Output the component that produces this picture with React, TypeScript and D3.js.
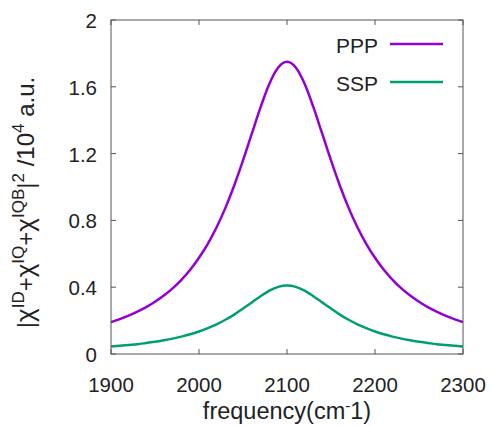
import React from "react";
import * as d3 from "d3";

const freq = [1900,1910,1920,1930,1940,1950,1960,1970,1980,1990,2000,2010,2020,2030,2040,2050,2060,2070,2080,2090,2100,2110,2120,2130,2140,2150,2160,2170,2180,2190,2200,2210,2220,2230,2240,2250,2260,2270,2280,2290,2300];
const pppHalf = [0.191,0.209,0.230,0.254,0.281,0.313,0.350,0.393,0.444,0.504,0.576,0.660,0.759,0.875,1.009,1.159,1.319,1.478,1.618,1.715,1.750];
const sspHalf = [0.045,0.049,0.054,0.059,0.066,0.073,0.082,0.092,0.104,0.118,0.135,0.155,0.178,0.205,0.236,0.272,0.309,0.346,0.379,0.402,0.410];
const ppp = [...pppHalf, ...pppHalf.slice(0, -1).reverse()];
const ssp = [...sspHalf, ...sspHalf.slice(0, -1).reverse()];
const xTicks = [1900, 2000, 2100, 2200, 2300];
const yTicks = [0, 0.4, 0.8, 1.2, 1.6, 2];
const seriesNames = ["PPP", "SSP"];
const seriesColors = ["#9400d3", "#009e73"];

export default function App() {
  const W = 492, H = 426;
  const L = 111, R = 463, T = 20, B = 354;
  const x = d3.scaleLinear().domain([1900, 2300]).range([L, R]);
  const y = d3.scaleLinear().domain([0, 2]).range([B, T]);
  const line = d3.line<number>().x((_, i) => x(freq[i])).y((d) => y(d)).curve(d3.curveMonotoneX);
  const series = [ppp, ssp];
  const font = "'Liberation Sans', Arial, sans-serif";
  const tk = 5;
  const fs = 20.5;
  const sup = 17;
  const up = 10;
  const chi = 26;
  return (
    <svg width={W} height={H} style={{ position: "absolute", left: 0, top: 0 }} fontFamily={font}>
      <rect x={0} y={0} width={W} height={H} fill="#fff" />
      {series.map((s, i) => (
        <path key={i} d={line(s) || ""} fill="none" stroke={seriesColors[i]} strokeWidth={2.5} />
      ))}
      <rect x={L} y={T} width={R - L} height={B - T} fill="none" stroke="#555" strokeWidth={1} />
      {xTicks.map((t) => (
        <g key={t}>
          <line x1={x(t)} x2={x(t)} y1={B} y2={B - tk} stroke="#555" />
          <line x1={x(t)} x2={x(t)} y1={T} y2={T + tk} stroke="#555" />
          <text x={x(t)} y={392} fontSize={fs} textAnchor="middle" fill="#222">{t}</text>
        </g>
      ))}
      {yTicks.map((t) => (
        <g key={t}>
          <line x1={L} x2={L + tk} y1={y(t)} y2={y(t)} stroke="#555" />
          <line x1={R} x2={R - tk} y1={y(t)} y2={y(t)} stroke="#555" />
          <text x={97} y={y(t) + 8} fontSize={fs} textAnchor="end" fill="#222">{t}</text>
        </g>
      ))}
      {seriesNames.map((n, i) => (
        <g key={n}>
          <text x={378} y={53 + i * 38} fontSize={21} textAnchor="end" fill="#222">{n}</text>
          <line x1={390} x2={443} y1={44 + i * 38} y2={44 + i * 38} stroke={seriesColors[i]} strokeWidth={2.5} />
        </g>
      ))}
      <text x={287} y={419} fontSize={23.5} textAnchor="middle" fill="#222">
        frequency(cm<tspan dy={-8} fontSize={15}>-</tspan><tspan dy={8}>1)</tspan>
      </text>
      <text transform="translate(33.5,202.5) rotate(-90)" fontSize={24} textAnchor="middle" fill="#222">
        |<tspan fontSize={chi}>χ</tspan><tspan dy={-up} fontSize={sup}>ID</tspan><tspan dy={up}>+</tspan><tspan fontSize={chi}>χ</tspan><tspan dy={-up} fontSize={sup}>IQ</tspan><tspan dy={up}>+</tspan><tspan fontSize={chi}>χ</tspan><tspan dy={-up} fontSize={sup}>IQB</tspan><tspan dy={up}>|</tspan><tspan dy={-up} fontSize={sup}>2</tspan><tspan dy={up}> /10</tspan><tspan dy={-up} fontSize={sup}>4</tspan><tspan dy={up}> a.u.</tspan>
      </text>
    </svg>
  );
}
